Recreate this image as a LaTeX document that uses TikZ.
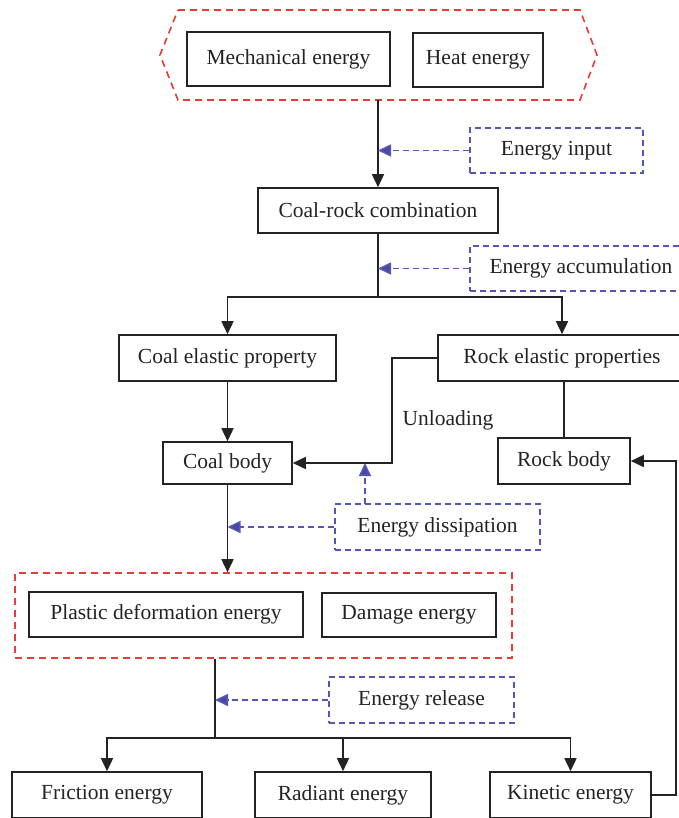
\documentclass[tikz,border=0pt]{standalone}
\usepackage{fontspec}
\setmainfont{Liberation Serif}
\usetikzlibrary{arrows.meta}
\definecolor{redd}{RGB}{230,60,55}
\definecolor{bluu}{RGB}{85,85,185}
\definecolor{ink}{RGB}{35,35,35}
\begin{document}
\begin{tikzpicture}[x=1pt,y=-1pt,
  every node/.style={font=\fontsize{21.5}{25}\selectfont, text=ink},
  box/.style={draw=ink, line width=1.6pt, inner sep=0pt},
  bluebox/.style={draw=bluu, line width=1.6pt, dash pattern=on 6pt off 4pt, inner sep=0pt},
  conn/.style={draw=ink, line width=1.6pt},
  arr/.style={conn, -{Triangle[length=13pt,width=12pt]}},
  barr/.style={draw=bluu, line width=1.6pt, dash pattern=on 6pt off 4pt, -{Triangle[length=13pt,width=12pt,fill=bluu!85!black]}},
  reddash/.style={draw=redd, line width=1.6pt, dash pattern=on 7pt off 5pt}]
\useasboundingbox (0,0) rectangle (678,818);
% hexagon
\draw[reddash] (178,10) -- (580,10) -- (597,55) -- (580,100) -- (178,100) -- (160,55) -- cycle;
\coordinate (hexb) at (378,100);
\node[box, minimum width=203pt, minimum height=54pt] (mech) at (288.5,59) {Mechanical energy};
\node[box, minimum width=130pt, minimum height=54pt] (heat) at (478,60) {Heat energy};
\node[box, minimum width=240pt, minimum height=45pt] (coalrock) at (378,210.5) {Coal-rock combination};
\node[bluebox, minimum width=173pt, minimum height=45pt] (input) at (556.5,150.5) {Energy input};
\node[bluebox, minimum width=222pt, minimum height=45pt] (accum) at (581,268.5) {Energy accumulation};
\node[box, minimum width=217pt, minimum height=46pt] (coalel) at (227.5,358) {Coal elastic property};
\node[box, minimum width=248pt, minimum height=46pt] (rockel) at (562,358) {Rock elastic properties};
\node[box, minimum width=129pt, minimum height=42pt] (coalbody) at (227.5,463) {Coal body};
\node[box, minimum width=132pt, minimum height=46pt] (rockbody) at (564,461) {Rock body};
\node[anchor=west] (unl) at (399,420) {Unloading};
\node[bluebox, minimum width=205pt, minimum height=46pt] (dissip) at (437.5,527) {Energy dissipation};
\node[reddash, minimum width=497pt, minimum height=85pt, inner sep=0pt] (redbox) at (263.5,615.5) {};
\node[box, minimum width=274pt, minimum height=45pt] (plastic) at (166,614.5) {Plastic deformation energy};
\node[box, minimum width=174pt, minimum height=44pt] (damage) at (409,615) {Damage energy};
\node[bluebox, minimum width=185pt, minimum height=46pt] (release) at (421.5,700) {Energy release};
\node[box, minimum width=190pt, minimum height=46pt] (friction) at (107,795) {Friction energy};
\node[box, minimum width=176pt, minimum height=46pt] (radiant) at (343,795) {Radiant energy};
\node[box, minimum width=161pt, minimum height=46pt] (kinetic) at (570.5,795) {Kinetic energy};
% connectors
\draw[arr] (hexb) -- (coalrock.north);
\draw[barr] (input.west) -- (input.west -| coalrock.north);
\coordinate (s1) at (378,297);
\draw[conn] (coalrock.south) -- (s1);
\draw[arr] (s1) -| (coalel.north);
\draw[arr] (s1) -| (rockel.north);
\draw[barr] (accum.west) -- (accum.west -| coalrock.south);
\draw[arr] (coalel.south) -- (coalbody.north);
\coordinate (ul) at (392,358);
\draw[arr] (rockel.west) -- (ul) |- (coalbody.east);
\draw[conn] (rockbody.north) -- (rockbody.north |- rockel.south);
\coordinate (dup) at (365,504);
\draw[barr] (dup) -- (dup |- coalbody.east);
\draw[barr] (dissip.west) -- (dissip.west -| coalbody.south);
\draw[arr] (coalbody.south) -- (coalbody.south |- redbox.north);
\coordinate (s2) at (215,738);
\draw[conn] (s2 |- redbox.south) -- (s2);
\draw[arr] (s2) -| (friction.north);
\draw[arr] (s2) -| (radiant.north);
\draw[arr] (s2) -| (kinetic.north);
\draw[barr] (release.west) -- (release.west -| s2);
\coordinate (kr) at (676,795);
\draw[arr] (kinetic.east) -- (kr) |- (rockbody.east);
\end{tikzpicture}
\end{document}
